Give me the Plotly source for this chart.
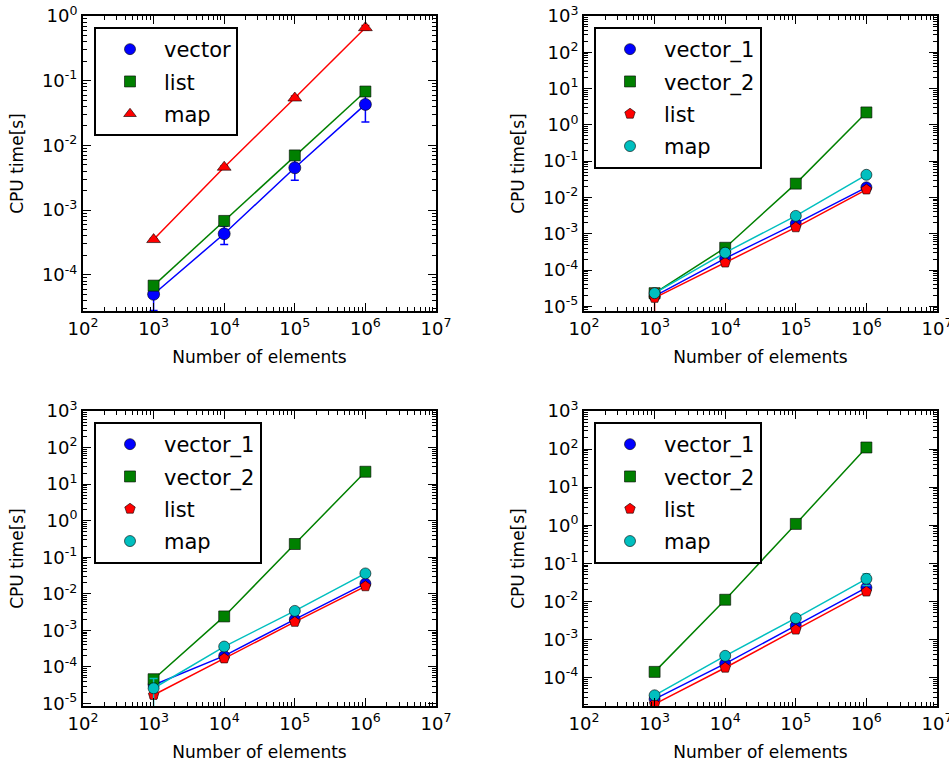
import plotly.graph_objects as go

# ---------------- data ----------------
n_elements = [1e3, 1e4, 1e5, 1e6]

x_tickvals = [1e2, 1e3, 1e4, 1e5, 1e6, 1e7]
x_ticktext = ["10<sup>2</sup>", "10<sup>3</sup>", "10<sup>4</sup>", "10<sup>5</sup>",
              "10<sup>6</sup>", "10<sup>7</sup>"]
y1_tickvals = [1e-4, 1e-3, 1e-2, 1e-1, 1e0]
y1_ticktext = ["10<sup>-4</sup>", "10<sup>-3</sup>", "10<sup>-2</sup>", "10<sup>-1</sup>", "10<sup>0</sup>"]
y_tickvals = [1e-5, 1e-4, 1e-3, 1e-2, 1e-1, 1e0, 1e1, 1e2, 1e3]
y_ticktext = ["10<sup>-5</sup>", "10<sup>-4</sup>", "10<sup>-3</sup>", "10<sup>-2</sup>", "10<sup>-1</sup>",
              "10<sup>0</sup>", "10<sup>1</sup>", "10<sup>2</sup>", "10<sup>3</sup>"]

# panel 1 (top-left)
p1_vector = [5.0e-5, 4.3e-4, 4.5e-3, 4.3e-2]
p1_vector_err = [2.2e-5, 1.35e-4, 1.6e-3, 2.0e-2]
p1_list = [6.8e-5, 6.8e-4, 7.0e-3, 6.8e-2]
p1_list_err = [4e-6, 3e-5, 3e-4, 3e-3]
p1_map = [3.5e-4, 4.6e-3, 5.4e-2, 0.66]
p1_map_err = [1.5e-5, 2e-4, 4e-3, 5e-2]

# panel 2 (top-right)
p2_vector_1 = [1.9e-5, 2.1e-4, 1.9e-3, 1.9e-2]
p2_vector_1_err = [2e-6, 1e-5, 1e-4, 1e-3]
p2_vector_2 = [2.3e-5, 4.1e-4, 2.4e-2, 2.2]
p2_vector_2_err = [2e-6, 2e-5, 1e-3, 1e-1]
p2_list = [1.7e-5, 1.6e-4, 1.5e-3, 1.65e-2]
p2_list_err = [1.3e-5, 1e-5, 1e-4, 1e-3]
p2_map = [2.3e-5, 3.0e-4, 3.1e-3, 4.2e-2]
p2_map_err = [3e-6, 2e-5, 2e-4, 3e-3]

# panel 3 (bottom-left)
p3_vector_1 = [3.2e-5, 2.0e-4, 2.0e-3, 1.9e-2]
p3_vector_1_err = [5e-6, 2e-5, 1e-4, 1.5e-3]
p3_vector_2 = [4.6e-5, 2.4e-3, 0.23, 21.8]
p3_vector_2_err = [1e-5, 1e-4, 1e-2, 1.0]
p3_list = [1.7e-5, 1.7e-4, 1.7e-3, 1.6e-2]
p3_list_err = [3e-6, 1e-5, 1e-4, 1e-3]
p3_map = [2.6e-5, 3.6e-4, 3.4e-3, 3.6e-2]
p3_map_err = [2.2e-5, 3e-5, 3e-4, 3e-3]

# panel 4 (bottom-right)
p4_vector_1 = [2.7e-5, 2.3e-4, 2.3e-3, 2.3e-2]
p4_vector_1_err = [3e-6, 2e-5, 2e-4, 2e-3]
p4_vector_2 = [1.4e-4, 1.1e-2, 1.08, 110.0]
p4_vector_2_err = [5e-6, 4e-4, 4e-2, 4.0]
p4_list = [2.0e-5, 1.8e-4, 1.8e-3, 1.8e-2]
p4_list_err = [2e-6, 1e-5, 1e-4, 1e-3]
p4_map = [3.4e-5, 3.7e-4, 3.6e-3, 3.9e-2]
p4_map_err = [3e-6, 3e-5, 3e-4, 1.3e-2]

BLUE, GREEN, RED, CYAN = "#0000ff", "#008000", "#ff0000", "#00bfbf"
FONT = "DejaVu Sans"

fig = go.Figure()


def add_series(xa, ya, leg, name, y, err, color, symbol, size=11):
    fig.add_trace(go.Scatter(
        x=n_elements, y=y, xaxis=xa, yaxis=ya, mode="lines+markers", name=name,
        legend=leg, legendgroup=leg + name,
        line=dict(color=color, width=1.5),
        marker=dict(color=color, symbol=symbol, size=size, line=dict(color="black", width=0.6)),
        error_y=dict(type="data", array=err, symmetric=True, color=color, thickness=1.5, width=4),
        showlegend=False,
    ))
    # marker-only legend entry
    fig.add_trace(go.Scatter(
        x=[None], y=[None], xaxis=xa, yaxis=ya, mode="markers", name=name,
        legend=leg, legendgroup=leg + name,
        marker=dict(color=color, symbol=symbol, size=11, line=dict(color="black", width=0.6)),
        showlegend=True,
    ))


add_series("x", "y", "legend", "vector", p1_vector, p1_vector_err, BLUE, "circle", 12)
add_series("x", "y", "legend", "list", p1_list, p1_list_err, GREEN, "square")
add_series("x", "y", "legend", "map", p1_map, p1_map_err, RED, "triangle-up", 12)

for xa, ya, leg, (v1, v1e, v2, v2e, li, lie, mp, mpe) in [
    ("x2", "y2", "legend2", (p2_vector_1, p2_vector_1_err, p2_vector_2, p2_vector_2_err,
                             p2_list, p2_list_err, p2_map, p2_map_err)),
    ("x3", "y3", "legend3", (p3_vector_1, p3_vector_1_err, p3_vector_2, p3_vector_2_err,
                             p3_list, p3_list_err, p3_map, p3_map_err)),
    ("x4", "y4", "legend4", (p4_vector_1, p4_vector_1_err, p4_vector_2, p4_vector_2_err,
                             p4_list, p4_list_err, p4_map, p4_map_err)),
]:
    add_series(xa, ya, leg, "vector_1", v1, v1e, BLUE, "circle")
    add_series(xa, ya, leg, "vector_2", v2, v2e, GREEN, "square")
    add_series(xa, ya, leg, "list", li, lie, RED, "pentagon")
    add_series(xa, ya, leg, "map", mp, mpe, CYAN, "circle")

W, H = 949, 765
ML, MR, MT, MB = 45, 5, 5, 45
PW, PH = W - ML - MR, H - MT - MB


def fx(px):
    return (px - ML) / PW


def fy(py):
    return (H - MB - py) / PH


def xaxis(x0, x1, anchor):
    return dict(
        type="log", range=[2, 7], domain=[fx(x0), fx(x1)], anchor=anchor, automargin=False,
        tickmode="array", tickvals=x_tickvals, ticktext=x_ticktext, ticklabeloverflow="allow",
        ticks="inside", ticklen=8, tickwidth=1, tickcolor="black",
        mirror="allticks", showline=True, linecolor="black", linewidth=2,
        showgrid=False, zeroline=False,
        minor=dict(ticks="inside", ticklen=4, tickwidth=1, tickcolor="black",
                   dtick="D1", showgrid=False),
        tickfont=dict(family=FONT, size=18, color="black"),
        title=dict(text="Number of elements", font=dict(family=FONT, size=17, color="black"),
                   standoff=14),
    )


def yaxis(y0, y1, rng, tv, tt, anchor):
    return dict(
        type="log", range=rng, domain=[fy(y1), fy(y0)], anchor=anchor, automargin=False,
        tickmode="array", tickvals=tv, ticktext=tt, ticklabeloverflow="allow",
        ticks="inside", ticklen=8, tickwidth=1, tickcolor="black",
        mirror="allticks", showline=True, linecolor="black", linewidth=2,
        showgrid=False, zeroline=False,
        minor=dict(ticks="inside", ticklen=4, tickwidth=1, tickcolor="black",
                   dtick="D1", showgrid=False),
        tickfont=dict(family=FONT, size=18, color="black"),
        title=dict(text="CPU time[s]", font=dict(family=FONT, size=17, color="black"),
                   standoff=14),
    )


def legend(x, y):
    return dict(
        x=fx(x), y=fy(y), xanchor="left", yanchor="top",
        bgcolor="white", bordercolor="black", borderwidth=2,
        font=dict(family=FONT, size=21, color="black"),
        itemwidth=58, tracegroupgap=2, traceorder="grouped",
    )


fig.update_layout(
    width=W, height=H, margin=dict(l=ML, r=MR, t=MT, b=MB, autoexpand=False),
    paper_bgcolor="white", plot_bgcolor="white",
    font=dict(family=FONT, color="black"),
    xaxis=xaxis(83, 436, "y"),
    yaxis=yaxis(16, 311, [-4.56, 0], y1_tickvals, y1_ticktext, "x"),
    xaxis2=xaxis(584, 937, "y2"),
    yaxis2=yaxis(16, 311, [-5.13, 3], y_tickvals, y_ticktext, "x2"),
    xaxis3=xaxis(83, 436, "y3"),
    yaxis3=yaxis(411, 706, [-5.07, 3], y_tickvals, y_ticktext, "x3"),
    xaxis4=xaxis(584, 937, "y4"),
    yaxis4=yaxis(411, 706, [-4.75, 3], y_tickvals, y_ticktext, "x4"),
    legend=legend(94, 27),
    legend2=legend(594, 27),
    legend3=legend(94, 422),
    legend4=legend(594, 422),
    showlegend=True,
)

fig.write_html("out.html", config={"displayModeBar": False},
               post_script="document.body.style.margin='0';document.body.style.overflow='hidden';")
